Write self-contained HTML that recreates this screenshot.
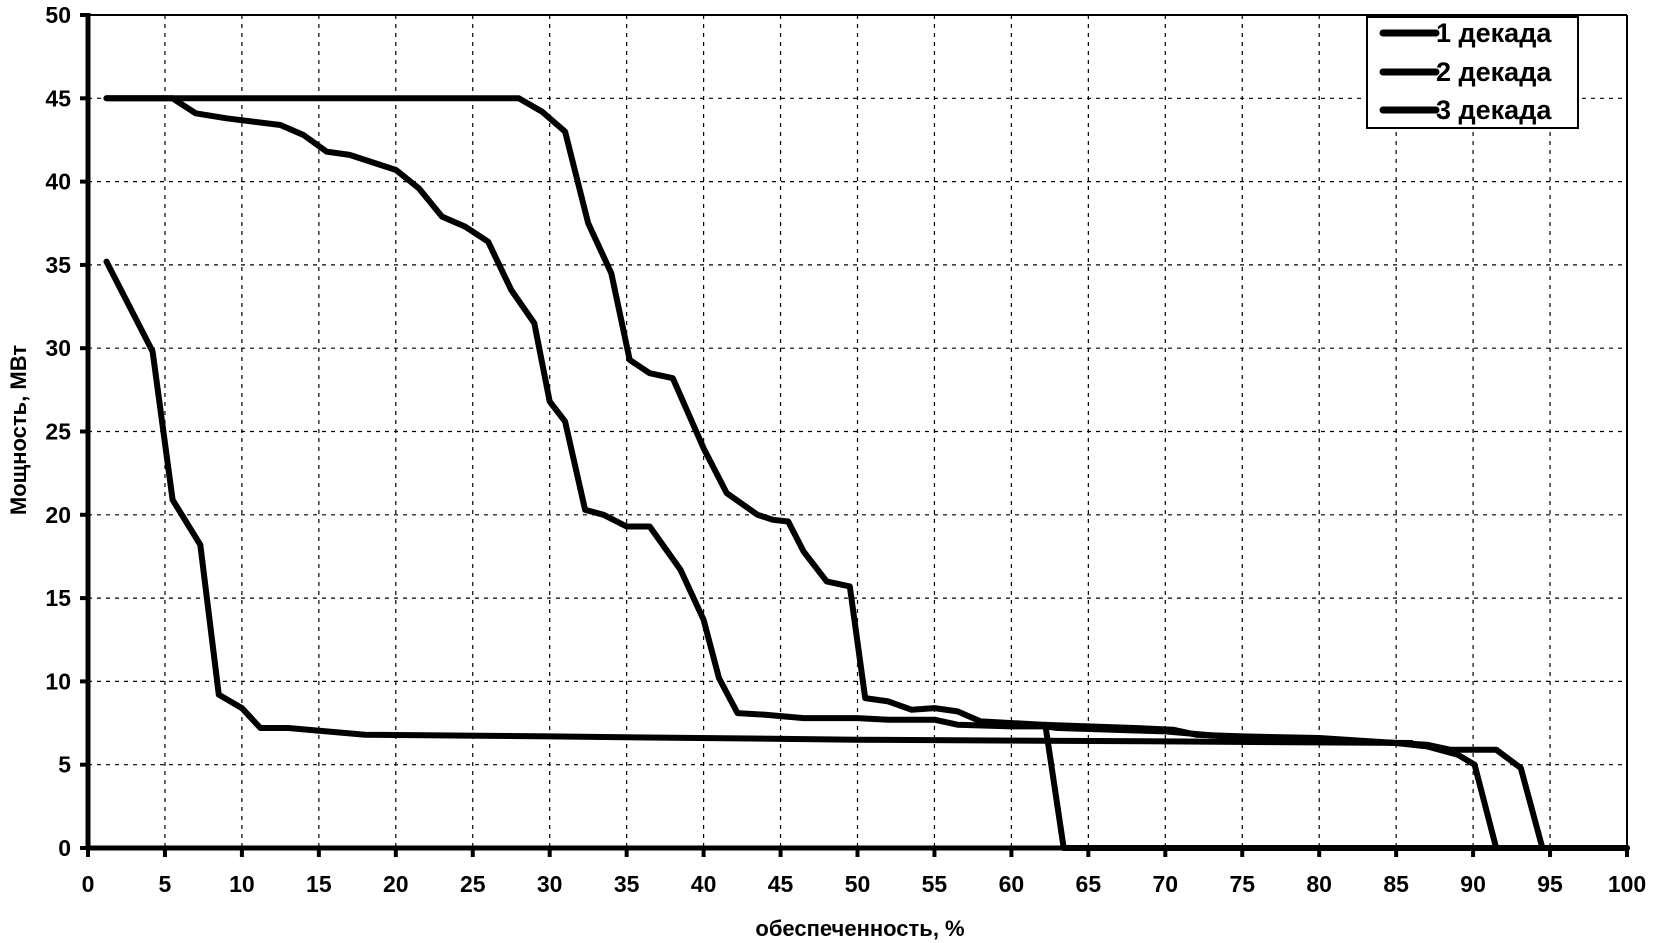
<!DOCTYPE html>
<html><head><meta charset="utf-8"><style>
html,body{margin:0;padding:0;background:#fff;width:1654px;height:943px;overflow:hidden}
svg text{font-family:"Liberation Sans",sans-serif;font-weight:bold;fill:#000}
</style></head><body>
<svg id="s" width="1654" height="943" xmlns="http://www.w3.org/2000/svg"></svg>
<script>
const s=document.getElementById('s');
const X0=88,XS=15.39,Y0=848,YS=16.66;
const px=x=>X0+x*XS, py=y=>Y0-y*YS;
let h='';
for(let i=1;i<20;i++){let x=px(i*5);h+=`<line x1="${x}" y1="15" x2="${x}" y2="848" stroke="#000" stroke-width="1.2" stroke-dasharray="4,5"/>`;}
for(let i=1;i<10;i++){let y=py(i*5);h+=`<line x1="88" y1="${y}" x2="1627" y2="${y}" stroke="#000" stroke-width="1.2" stroke-dasharray="4,5"/>`;}
h+=`<line x1="88" y1="15" x2="1627" y2="15" stroke="#000" stroke-width="2"/>`;
h+=`<line x1="1627" y1="15" x2="1627" y2="848" stroke="#000" stroke-width="2"/>`;
h+=`<line x1="88" y1="13" x2="88" y2="850" stroke="#000" stroke-width="5"/>`;
h+=`<line x1="86" y1="848" x2="1629" y2="848" stroke="#000" stroke-width="5"/>`;
for(let i=0;i<=10;i++){let y=py(i*5);h+=`<line x1="80" y1="${y}" x2="88" y2="${y}" stroke="#000" stroke-width="4"/><text x="71" y="${y+8}" font-size="23" text-anchor="end">${i*5}</text>`;}
for(let i=0;i<=20;i++){let x=px(i*5);h+=`<line x1="${x}" y1="848" x2="${x}" y2="857" stroke="#000" stroke-width="4"/><text x="${x}" y="892" font-size="23" text-anchor="middle">${i*5}</text>`;}
h+=`<text x="860" y="936" font-size="22" text-anchor="middle">обеспеченность, %</text>`;
h+=`<text transform="translate(26,430) rotate(-90)" font-size="22" text-anchor="middle">Мощность, МВт</text>`;
const A=[[1.2,45],[28,45],[29.5,44.2],[31,43],[32.5,37.5],[34,34.5],[35.2,29.3],[36.5,28.5],[38,28.2],[40,24],[41.5,21.3],[43.5,20],[44.5,19.7],[45.5,19.6],[46.5,17.8],[48,16],[49.5,15.7],[50.5,9],[52,8.8],[53.5,8.3],[55,8.4],[56.5,8.2],[58,7.6],[62,7.4],[65,7.3],[68,7.2],[70.5,7.1],[72,6.8],[75,6.7],[80,6.6],[85,6.3],[87,6.2],[88.5,5.9],[91.5,5.9],[93.1,4.8],[94.5,0],[100,0]];
const B=[[1.2,45],[5.5,45],[7,44.1],[9,43.8],[12.5,43.4],[14,42.8],[15.5,41.8],[17,41.6],[20,40.7],[21.5,39.6],[23,37.9],[24.5,37.3],[26,36.4],[27.5,33.5],[29,31.5],[30,26.8],[31,25.6],[32.3,20.3],[33.5,20],[35,19.3],[36.5,19.3],[38.5,16.7],[40,13.7],[41,10.2],[42.2,8.1],[44,8],[46.5,7.8],[50,7.8],[52,7.7],[55,7.7],[56.5,7.4],[60,7.3],[62.2,7.3],[63,7.2],[70,7.0],[75,6.6],[80,6.5],[85,6.3],[87,6.1],[89,5.6],[90.1,5],[91.5,0],[100,0]];
const C=[[1.2,35.2],[4.2,29.8],[5.5,20.9],[7.3,18.2],[8.5,9.2],[10,8.4],[11.2,7.2],[13,7.2],[18,6.8],[30,6.7],[50,6.5],[70,6.4],[86,6.3]];
const D=[[62.2,7.4],[63.4,0],[100,0]];
for(const L of [A,B,C,D]){h+=`<polyline fill="none" stroke="#000" stroke-width="6" stroke-linejoin="round" stroke-linecap="round" points="${L.map(p=>px(p[0]).toFixed(1)+','+py(p[1]).toFixed(1)).join(' ')}"/>`;}
h+=`<rect x="1367" y="17" width="211" height="111" fill="#fff" stroke="#000" stroke-width="2"/>`;
[[1,42],[2,81],[3,119]].forEach(([n,y])=>{h+=`<line x1="1383" y1="${y-9}" x2="1436" y2="${y-9}" stroke="#000" stroke-width="7" stroke-linecap="round"/><text x="1436" y="${y}" font-size="27">${n} декада</text>`;});
s.innerHTML=h;
</script>
</body></html>
